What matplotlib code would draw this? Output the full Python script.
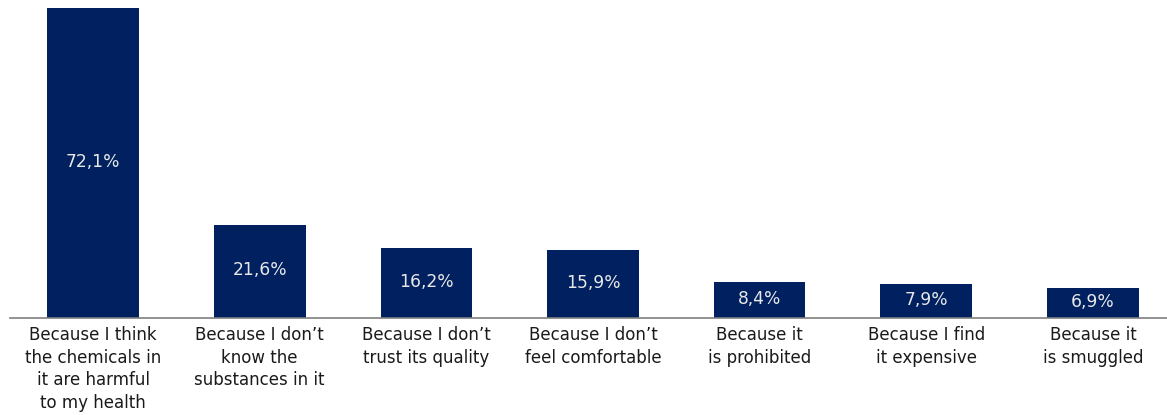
import matplotlib
matplotlib.use("Agg")
import matplotlib.pyplot as plt

categories = [
    "Because I think\nthe chemicals in\nit are harmful\nto my health",
    "Because I don\u2019t\nknow the\nsubstances in it",
    "Because I don\u2019t\ntrust its quality",
    "Because I don\u2019t\nfeel comfortable",
    "Because it\nis prohibited",
    "Because I find\nit expensive",
    "Because it\nis smuggled",
]
values = [72.1, 21.6, 16.2, 15.9, 8.4, 7.9, 6.9]
value_labels = ["72,1%", "21,6%", "16,2%", "15,9%", "8,4%", "7,9%", "6,9%"]

W, H = 1167, 415
fig = plt.figure(figsize=(W / 100, H / 100), dpi=100)
ax = fig.add_axes([9.7 / W, 97 / H, 1166.6 / W, 318 / H])

x = list(range(len(values)))
bars = ax.bar(x, values, width=0.55, color="#002060")
ax.set_xlim(-0.5, len(values) - 0.5)
ax.set_ylim(0, 318 / 4.3)

for xi, v, lab in zip(x, values, value_labels):
    ax.text(xi, v / 2 + 0.3, lab, ha="center", va="center", color="#e8e8e8",
            fontsize=12.3, family="DejaVu Sans")

ax.set_xticks(x)
ax.set_xticklabels(categories, fontsize=12, color="#1a1a1a", linespacing=1.32)
ax.tick_params(axis="x", length=0, pad=6)
ax.set_yticks([])
for s in ["top", "right", "left"]:
    ax.spines[s].set_visible(False)
ax.spines["bottom"].set_color("#7f7f7f")
ax.spines["bottom"].set_linewidth(1.2)

fig.savefig("out.png", dpi=100)
